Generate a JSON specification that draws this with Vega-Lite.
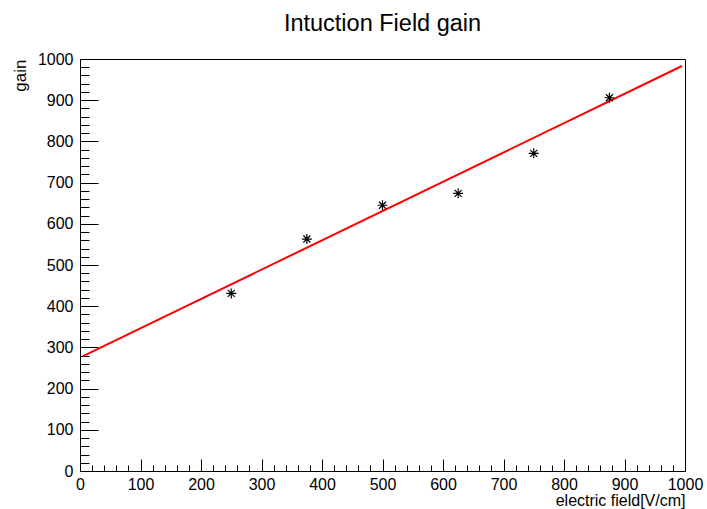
{
  "$schema": "https://vega.github.io/schema/vega-lite/v6.json",
  "autosize": "none",
  "width": 605,
  "height": 412,
  "padding": {"left": 80, "top": 59, "right": 22, "bottom": 38},
  "background": "white",
  "config": {
    "font": "Liberation Sans",
    "view": {"stroke": "black", "strokeWidth": 1},
    "axis": {"grid": false, "domainColor": "black", "tickColor": "black", "labelColor": "black", "titleColor": "black", "labelFont": "Liberation Sans", "titleFont": "Liberation Sans", "titleFontWeight": "normal", "labelFlush": false}
  },
  "title": {"text": "Intuction Field gain", "fontSize": 23.5, "fontWeight": "normal", "anchor": "middle", "offset": 16, "color": "black", "font": "Liberation Sans"},
  "datasets": {
    "points": [
      {"field": 250, "gain": 431},
      {"field": 375, "gain": 563},
      {"field": 500, "gain": 645},
      {"field": 625, "gain": 674},
      {"field": 750, "gain": 771},
      {"field": 875, "gain": 906}
    ],
    "fit": [
      {"field": 5, "gain": 279},
      {"field": 995, "gain": 983}
    ]
  },
  "layer": [
    {
      "data": {"name": "fit"},
      "mark": {"type": "line", "color": "red", "strokeWidth": 2, "clip": true},
      "encoding": {
        "x": {"field": "field", "type": "quantitative", "scale": {"domain": [0, 1000], "nice": false, "zero": false},
          "axis": {"orient": "bottom", "values": [0,20,40,60,80,100,120,140,160,180,200,220,240,260,280,300,320,340,360,380,400,420,440,460,480,500,520,540,560,580,600,620,640,660,680,700,720,740,760,780,800,820,840,860,880,900,920,940,960,980,1000], "labels": false, "title": null, "tickSize": -6, "domain": false}},
        "y": {"field": "gain", "type": "quantitative", "scale": {"domain": [0, 1000], "nice": false, "zero": false},
          "axis": {"orient": "left", "values": [0,20,40,60,80,100,120,140,160,180,200,220,240,260,280,300,320,340,360,380,400,420,440,460,480,500,520,540,560,580,600,620,640,660,680,700,720,740,760,780,800,820,840,860,880,900,920,940,960,980,1000], "labels": false, "title": null, "tickSize": -9, "domain": false}}
      }
    },
    {
      "data": {"name": "points"},
      "mark": {"type": "point", "shape": "M-1,0L1,0M0,-1L0,1M-0.7,-0.7L0.7,0.7M-0.7,0.7L0.7,-0.7", "size": 100, "stroke": "black", "strokeWidth": 1.2, "filled": false, "opacity": 1},
      "encoding": {
        "x": {"field": "field", "type": "quantitative",
          "axis": {"orient": "bottom", "values": [0,100,200,300,400,500,600,700,800,900,1000], "format": "d", "tickSize": -12, "labelPadding": 17, "labelFontSize": 16, "title": "electric field[V/cm]", "titleFontSize": 16, "titleAnchor": "end", "titleAlign": "right", "titleBaseline": "alphabetic", "titleY": 34}},
        "y": {"field": "gain", "type": "quantitative",
          "axis": {"orient": "left", "values": [0,100,200,300,400,500,600,700,800,900,1000], "format": "d", "tickSize": -18, "labelPadding": 25, "labelFontSize": 16, "title": "gain", "titleFontSize": 17, "titleAnchor": "end", "titleAlign": "right", "titlePadding": 8}}
      }
    }
  ],
  "resolve": {"axis": {"x": "independent", "y": "independent"}}
}
